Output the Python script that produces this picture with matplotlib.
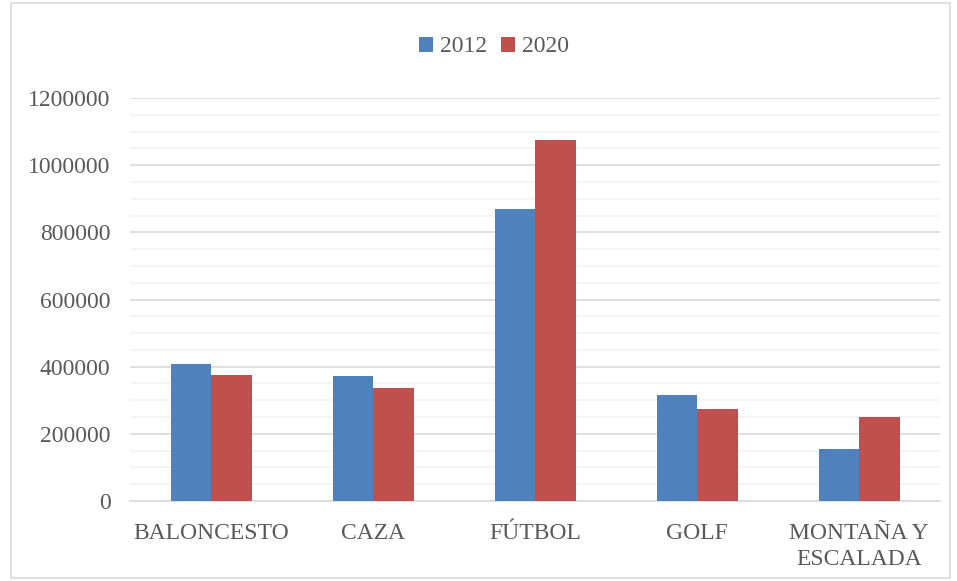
import matplotlib
matplotlib.use('Agg')
import matplotlib.pyplot as plt
from matplotlib.ticker import MultipleLocator
from matplotlib.patches import Rectangle
import numpy as np

categories = ["BALONCESTO", "CAZA", "FÚTBOL", "GOLF", "MONTAÑA Y\nESCALADA"]
v2012 = [408000, 372000, 869000, 315000, 155000]
v2020 = [375000, 336000, 1075000, 274000, 250000]

plt.rcParams['font.family'] = ['Liberation Serif', 'DejaVu Serif']
txt = '#595959'

fig = plt.figure(figsize=(9.57, 5.81), dpi=100)
fig.patches.append(Rectangle((0.011, 0.005), 0.982, 0.99, transform=fig.transFigure,
                             fill=False, edgecolor='#d9d9d9', linewidth=1.2))
ax = fig.add_axes([130/957, 1-501/581, 810/957, 403/581])

x = np.arange(len(categories))
w = 0.25
ax.bar(x - w/2, v2012, w, color='#4f81bd', label='2012', zorder=3)
ax.bar(x + w/2, v2020, w, color='#c0504d', label='2020', zorder=3)

ax.set_xlim(-0.5, len(categories) - 0.5)
ax.set_ylim(0, 1200000)
ax.yaxis.set_major_locator(MultipleLocator(200000))
ax.yaxis.set_minor_locator(MultipleLocator(50000))
ax.grid(axis='y', which='major', color='#d9d9d9', linewidth=1.2, zorder=0)
ax.grid(axis='y', which='minor', color='#f2f2f2', linewidth=1.2, zorder=0)
ax.set_axisbelow(True)
for s in ['top', 'right', 'left']:
    ax.spines[s].set_visible(False)
ax.spines['bottom'].set_color('#d9d9d9')
ax.spines['bottom'].set_linewidth(1.2)

ax.set_xticks(x)
ax.set_xticklabels(categories, fontsize=17, color=txt, linespacing=1.3)
ax.tick_params(axis='x', length=0, pad=16)
ax.tick_params(axis='y', which='both', length=0, labelsize=17, labelcolor=txt, pad=14)
ax.yaxis.set_major_formatter(matplotlib.ticker.FuncFormatter(lambda v, p: f"{int(v)}"))

ax.legend(loc='center', bbox_to_anchor=(494/957, 1 - 47/581), bbox_transform=fig.transFigure,
          ncol=2, frameon=False, fontsize=17, labelcolor=txt, handlelength=0.6,
          handleheight=0.6, handletextpad=0.3, columnspacing=0.6)

fig.savefig('out.png', dpi=100)
